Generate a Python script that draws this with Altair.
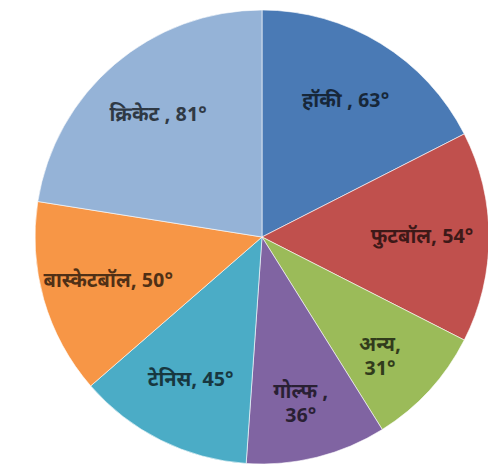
import altair as alt
import pandas as pd

sports = ["हॉकी", "फुटबॉल", "अन्य", "गोल्फ", "टेनिस", "बास्केटबॉल", "क्रिकेट"]
degrees = [63, 54, 31, 36, 45, 50, 81]
separators = [" , ", ", ", ",\n", " ,\n", ", ", ", ", " , "]
colors = ["#4a7ab5", "#c0504d", "#9bbb59", "#8064a2", "#4bacc6", "#f79646", "#95b3d7"]

labels = [f"{s}{sep}{d}°" for s, sep, d in zip(sports, separators, degrees)]
df = pd.DataFrame({"sport": sports, "deg": degrees, "label": labels, "idx": list(range(len(sports)))})

cx, cy = 254, 229
base = alt.Chart(df).encode(
    theta=alt.Theta("deg:Q", stack=True),
    order=alt.Order("idx:Q"),
    color=alt.Color("sport:N", scale=alt.Scale(domain=sports, range=colors), legend=None),
)

pie = base.mark_arc(outerRadius=227, stroke="#ffffff", strokeWidth=0.6).encode(
    x=alt.value(cx), y=alt.value(cy)
)

text = base.mark_text(
    radius=160, fontSize=20, fontWeight="bold", lineBreak="\n", lineHeight=24,
    font="Noto Sans Devanagari, Lohit Devanagari, Mangal, Noto Sans, sans-serif",
).encode(
    x=alt.value(cx), y=alt.value(cy), text="label:N",
    color=alt.value("#000000"), opacity=alt.value(0.68)
)

chart = (pie + text).properties(
    width=480, height=456, padding=0, autosize=alt.AutoSizeParams(type="none")
).configure_view(stroke=None)
chart.save("out.html", embed_options={"renderer": "svg", "actions": False})
